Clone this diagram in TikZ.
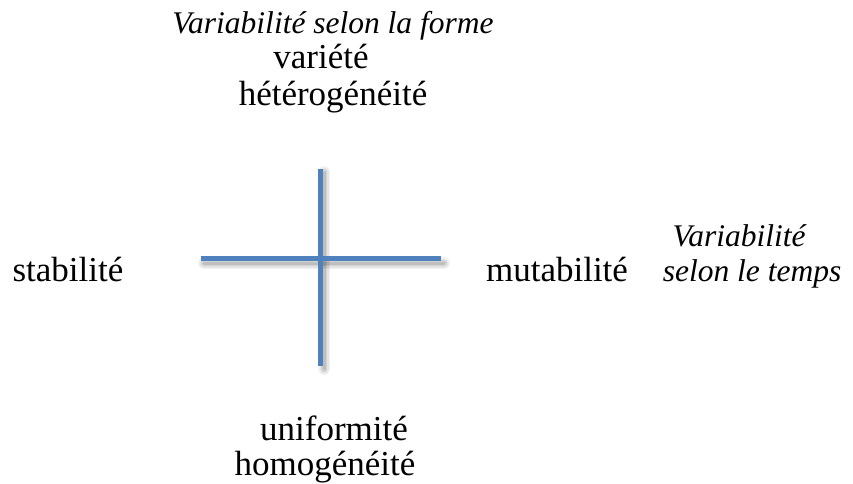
\documentclass[tikz,border=0pt]{standalone}
\usepackage{fontspec}
\setmainfont{Liberation Serif}
\definecolor{axisblue}{HTML}{4F81BD}
\tikzset{
  lbl/.style={inner sep=0pt, anchor=base, font=\fontsize{35}{40}\selectfont},
  ilbl/.style={lbl, font=\fontsize{31.5}{36}\selectfont\itshape},
  axisline/.style={draw=axisblue, line width=5pt},
  shadowline/.style={draw=black, line cap=round}
}
\begin{document}
\begin{tikzpicture}[x=1pt,y=1pt]
\useasboundingbox (0,0) rectangle (853,-483);
% axis end points
\coordinate (L) at (201,-258);
\coordinate (R) at (441,-258);
\coordinate (T) at (320,-169);
\coordinate (B) at (320,-366);
% soft shadows
\foreach \w/\o in {12/0.05,9/0.06,6/0.08,3/0.09}{
  \draw[shadowline, line width=\w pt, opacity=\o] ([shift={(3,-5)}]L) -- ([shift={(3,-5)}]R);
  \draw[shadowline, line width=\w pt, opacity=\o] ([shift={(4,-3)}]T) -- ([shift={(4,-3)}]B);
}
% axes
\draw[axisline] (L) -- (R);
\draw[axisline] (T) -- (B);
% labels
\node[ilbl] (vforme) at (333,-33) {Variabilité selon la forme};
\node[lbl] (variete) at (321,-68) {variété};
\node[lbl] (hetero) at (333,-105) {hétérogénéité};
\node[lbl] (stab) at (68,-281) {stabilité};
\node[lbl] (mutab) at (557,-281) {mutabilité};
\node[ilbl] (vtemps1) at (739,-246) {Variabilité};
\node[ilbl] (vtemps2) at (752,-281) {selon le temps};
\node[lbl] (unif) at (334,-440) {uniformité};
\node[lbl] (homo) at (325,-475) {homogénéité};
\end{tikzpicture}
\end{document}
